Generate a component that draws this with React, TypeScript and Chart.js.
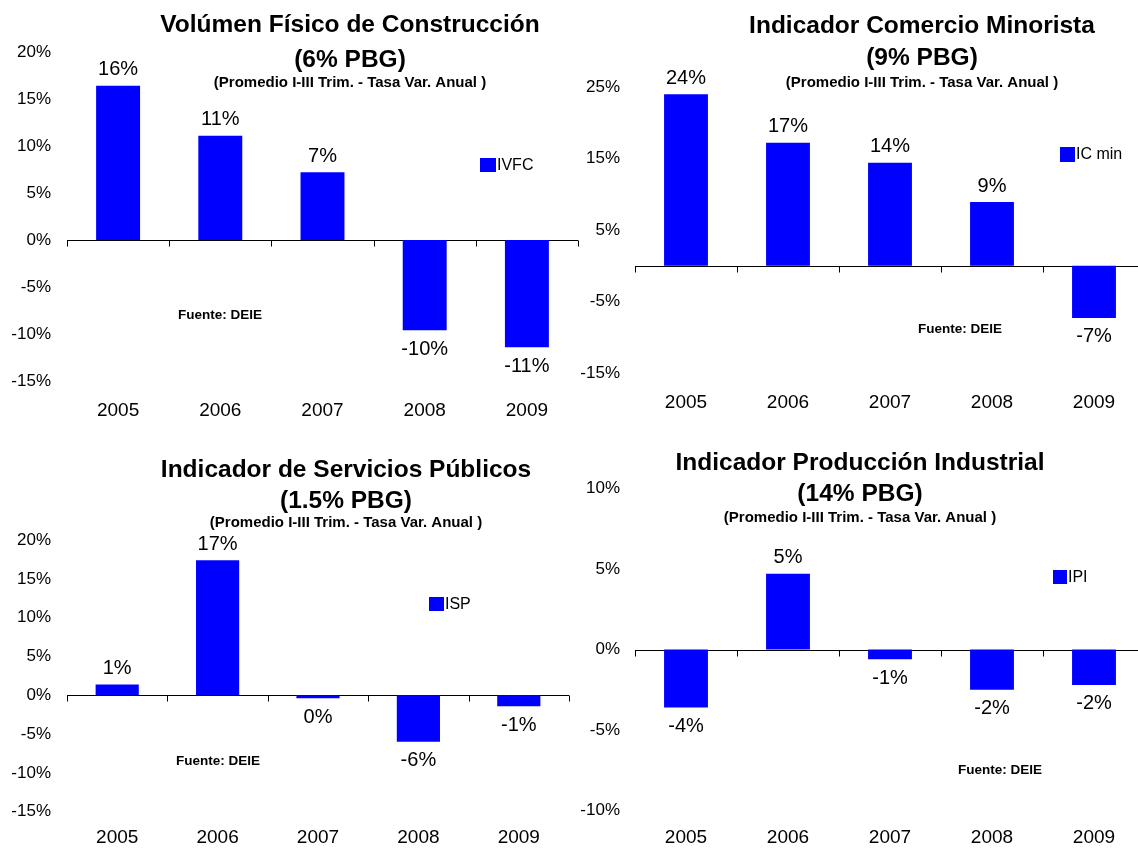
import React, { useEffect, useRef } from "react";
import { Chart, registerables } from "chart.js";

Chart.register(...registerables);

// ---- data ----
const years = ["2005", "2006", "2007", "2008", "2009"];
const ivfcValues = [16.4, 11.1, 7.2, -9.6, -11.4];
const icMinValues = [24.0, 17.2, 14.4, 8.9, -7.3];
const ispValues = [1.4, 17.4, -0.4, -6.0, -1.4];
const ipiValues = [-3.6, 4.7, -0.6, -2.5, -2.2];

const ivfcAxis = [-15, 20, 5]; // min, max, step
const icMinAxis = [-15, 25, 10];
const ispAxis = [-15, 20, 5];
const ipiAxis = [-10, 10, 5];

const titles = [
  "Volúmen Físico de Construcción",
  "Indicador Comercio Minorista",
  "Indicador de Servicios Públicos",
  "Indicador Producción Industrial",
];
const shares = ["(6% PBG)", "(9% PBG)", "(1.5% PBG)", "(14% PBG)"];
const seriesNames = ["IVFC", "IC min", "ISP", "IPI"];
const subtitle = "(Promedio I-III Trim. - Tasa Var. Anual )";
const sourceText = "Fuente: DEIE";

const FONT = '"Liberation Sans", Arial, Helvetica, sans-serif';
const BLUE = "#0000FF";

type Panel = {
  left: number;
  top: number;
  width: number;
  height: number;
  canvasWidth: number;
  area: { left: number; right: number; top: number; bottom: number };
  yLabelRight: number;
  xPad: number;
  title: string;
  share: string;
  series: string;
  values: number[];
  axis: number[];
  titleX: number;
  titleYs: number[];
  legend: { x: number; y: number; w: number; h: number };
  source: { x: number; y: number };
};

const panels: Panel[] = [
  {
    left: 0, top: 0, width: 580, height: 430, canvasWidth: 580,
    area: { left: 67, right: 578, top: 52, bottom: 381 },
    yLabelRight: 51, xPad: 18,
    title: titles[0], share: shares[0], series: seriesNames[0], values: ivfcValues, axis: ivfcAxis,
    titleX: 350, titleYs: [25.5, 60, 82.5],
    legend: { x: 480, y: 158, w: 16, h: 14 },
    source: { x: 220, y: 315 },
  },
  {
    left: 570, top: 0, width: 568, height: 430, canvasWidth: 580,
    area: { left: 65, right: 575, top: 87, bottom: 373 },
    yLabelRight: 50, xPad: 18,
    title: titles[1], share: shares[1], series: seriesNames[1], values: icMinValues, axis: icMinAxis,
    titleX: 352, titleYs: [26, 58, 82.5],
    legend: { x: 490, y: 147, w: 15, h: 15 },
    source: { x: 390, y: 329 },
  },
  {
    left: 0, top: 430, width: 570, height: 420, canvasWidth: 570,
    area: { left: 67, right: 569, top: 110, bottom: 381.7 },
    yLabelRight: 51, xPad: 15,
    title: titles[2], share: shares[2], series: seriesNames[2], values: ispValues, axis: ispAxis,
    titleX: 346, titleYs: [40, 71, 93.3],
    legend: { x: 429, y: 167, w: 15, h: 14 },
    source: { x: 218, y: 331.7 },
  },
  {
    left: 570, top: 430, width: 568, height: 420, canvasWidth: 580,
    area: { left: 65, right: 575, top: 58.3, bottom: 380.7 },
    yLabelRight: 50, xPad: 16,
    title: titles[3], share: shares[3], series: seriesNames[3], values: ipiValues, axis: ipiAxis,
    titleX: 290, titleYs: [33, 64, 88.3],
    legend: { x: 483, y: 140, w: 14, h: 14 },
    source: { x: 430, y: 340 },
  },
];

function PanelChart({ p }: { p: Panel }) {
  const ref = useRef<HTMLCanvasElement>(null);

  useEffect(() => {
    const decor = {
      id: "decor",
      beforeDatasetsDraw(chart: any) {
        const ctx = chart.ctx;
        const xs = chart.scales.x;
        const ys = chart.scales.y;
        const y0 = Math.round(ys.getPixelForValue(0)) + 0.5;
        const n = years.length;
        const step = (xs.right - xs.left) / n;
        ctx.save();
        ctx.strokeStyle = "#000";
        ctx.lineWidth = 1;
        ctx.beginPath();
        ctx.moveTo(xs.left, y0);
        ctx.lineTo(xs.right, y0);
        for (let i = 0; i <= n; i++) {
          const x = Math.round(xs.getPixelForValue(i) - step / 2) + 0.5;
          ctx.moveTo(x, y0);
          ctx.lineTo(x, y0 + 6);
        }
        ctx.stroke();
        ctx.restore();
      },
      afterDatasetsDraw(chart: any) {
        const ctx = chart.ctx;
        ctx.save();
        // value labels
        const meta = chart.getDatasetMeta(0);
        ctx.fillStyle = "#000";
        ctx.textAlign = "center";
        ctx.textBaseline = "middle";
        ctx.font = `20px ${FONT}`;
        meta.data.forEach((bar: any, i: number) => {
          const v = p.values[i];
          const y = v >= 0 ? bar.y - 16 : bar.y + 19;
          ctx.fillText(`${Math.round(v)}%`, bar.x, y);
        });
        // titles
        ctx.font = `bold 24.5px ${FONT}`;
        ctx.fillText(p.title, p.titleX, p.titleYs[0]);
        ctx.fillText(p.share, p.titleX, p.titleYs[1]);
        ctx.font = `bold 15px ${FONT}`;
        ctx.fillText(subtitle, p.titleX, p.titleYs[2]);
        // source
        ctx.font = `bold 13.5px ${FONT}`;
        ctx.fillText(sourceText, p.source.x, p.source.y);
        // legend
        ctx.fillStyle = BLUE;
        ctx.fillRect(p.legend.x, p.legend.y, p.legend.w, p.legend.h);
        ctx.fillStyle = "#000";
        ctx.textAlign = "left";
        ctx.font = `16px ${FONT}`;
        ctx.fillText(p.series, p.legend.x + p.legend.w + 1, p.legend.y + p.legend.h / 2 + 0.5);
        ctx.restore();
      },
    };

    const chart = new Chart(ref.current as HTMLCanvasElement, {
      type: "bar",
      data: {
        labels: years,
        datasets: [
          {
            label: p.series,
            data: p.values,
            backgroundColor: BLUE,
            borderWidth: 0,
            barPercentage: 0.43,
            categoryPercentage: 1,
          },
        ],
      },
      options: {
        responsive: false,
        maintainAspectRatio: false,
        animation: false,
        layout: {
          padding: {
            left: 0,
            right: p.canvasWidth - p.area.right,
            top: p.area.top,
            bottom: p.height - p.area.bottom - 36,
          },
        },
        plugins: {
          legend: { display: false },
          tooltip: { enabled: false },
          title: { display: false },
        },
        scales: {
          x: {
            grid: { display: false, drawTicks: false },
            border: { display: false },
            ticks: {
              color: "#000",
              font: { family: FONT, size: 19 },
              padding: p.xPad,
              maxRotation: 0,
              autoSkip: false,
            },
            afterFit: (s: any) => {
              s.height = 36;
            },
          },
          y: {
            min: p.axis[0],
            max: p.axis[1],
            grid: { display: false, drawTicks: false },
            border: { display: false },
            ticks: {
              stepSize: p.axis[2],
              color: "#000",
              font: { family: FONT, size: 17 },
              padding: p.area.left - p.yLabelRight,
              callback: (v: any) => `${v}%`,
            },
            afterFit: (s: any) => {
              s.width = p.area.left;
            },
          },
        },
      },
      plugins: [decor],
    } as any);

    return () => chart.destroy();
  }, [p]);

  return (
    <div
      style={{
        position: "absolute",
        left: p.left,
        top: p.top,
        width: p.width,
        height: p.height,
        overflow: "hidden",
      }}
    >
      <canvas
        ref={ref}
        width={p.canvasWidth}
        height={p.height}
        style={{ display: "block", width: p.canvasWidth, height: p.height }}
      />
    </div>
  );
}

export default function App() {
  return (
    <div style={{ position: "absolute", left: 0, top: 0, width: 1138, height: 850, background: "#fff", overflow: "hidden" }}>
      {panels.map((p, i) => (
        <PanelChart key={i} p={p} />
      ))}
    </div>
  );
}
